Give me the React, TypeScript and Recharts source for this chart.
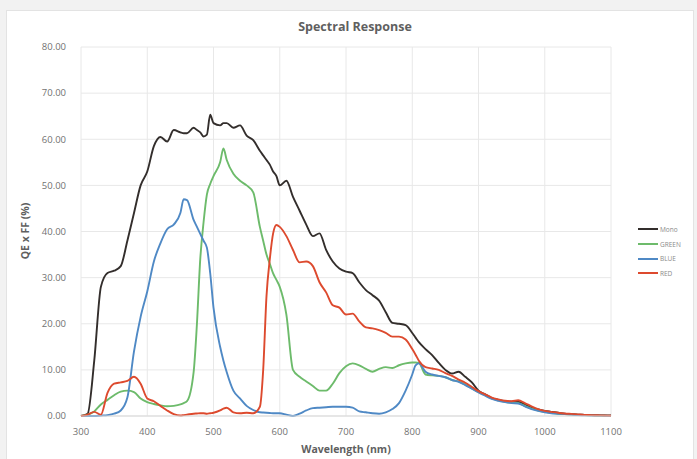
import { CartesianGrid, Line, LineChart, XAxis, YAxis } from "recharts";

// wavelength samples (nm), extra points where curves change fast
const wavelengths = [
  300, 310, 320, 330, 340, 350, 360, 370, 380, 390, 400, 410, 420, 430, 440, 450, 455, 460, 470, 475,
  480, 485, 490, 495, 500, 510, 515, 520, 530, 540, 550, 560, 570, 575, 580, 585, 590, 595, 600, 610,
  620, 630, 640, 650, 660, 670, 680, 690, 700, 710, 720, 730, 740, 750, 760, 770, 780, 790, 800, 805,
  810, 820, 830, 840, 850, 860, 870, 880, 890, 900, 910, 920, 930, 940, 950, 960, 970, 980, 990, 1000,
  1010, 1020, 1030, 1040, 1050, 1060, 1070, 1080, 1090, 1100,
];

const mono = [
  0, 0.5, 12, 28, 31, 31.5, 32.5, 38, 44, 50, 53, 58.5, 60.5, 59.5, 62, 61.5, 61.3, 61.3, 62.5, 62,
  61.5, 60.6, 61, 65.3, 63.5, 63, 63.5, 63.5, 62.5, 63, 60.8, 59.8, 57.5, 56.5, 55.5, 54.5, 53, 52, 50, 51,
  47.5, 44.5, 41.5, 39, 39.6, 36, 33.5, 32, 31.3, 31, 29, 27.3, 26.2, 25, 22.5, 20.2, 20, 19.7, 18, 17,
  16, 14.5, 13.2, 11.5, 10, 9.2, 9.6, 8.5, 7.3, 5.5, 4.7, 3.9, 3.5, 3.2, 3.1, 3.1, 2.5, 1.8, 1.4, 1.1,
  0.9, 0.7, 0.5, 0.4, 0.3, 0.25, 0.2, 0.15, 0.1, 0.1,
];

const green = [
  0, 0.3, 1, 2.5, 3.5, 4.5, 5.3, 5.5, 5.2, 3.8, 3, 2.6, 2.3, 2.1, 2.2, 2.5, 2.8, 3.2, 9.5, 20,
  34, 42, 48, 50.3, 52, 55, 58, 55.5, 52.5, 51, 50, 48.5, 41, 38, 35, 33, 30.9, 29.5, 28, 22,
  10, 8.5, 7.5, 6.5, 5.5, 5.5, 7, 9.3, 10.8, 11.4, 11, 10.2, 9.6, 10.2, 10.6, 10.4, 11, 11.4, 11.6, 11.6,
  11.5, 9, 8.8, 8.7, 8.4, 7.8, 7.5, 6.8, 6, 5.2, 4.5, 3.8, 3.4, 3.1, 2.9, 2.8, 2.2, 1.6, 1.2, 0.9,
  0.7, 0.5, 0.4, 0.3, 0.25, 0.2, 0.15, 0.1, 0.05, 0,
];

const blue = [
  0, 0, 0, 0.1, 0.2, 0.5, 1.2, 4, 14, 21.5, 27, 33.5, 37.5, 40.5, 41.5, 44, 47, 46.8, 42.5, 41,
  39.5, 38, 36.5, 31, 23.5, 15, 12, 9.5, 5.5, 3.8, 2.2, 1.3, 0.8, 0.75, 0.7, 0.65, 0.6, 0.6, 0.6, 0.3,
  0, 0.5, 1.2, 1.7, 1.8, 1.9, 2, 2, 2, 1.8, 1, 0.8, 0.6, 0.5, 0.8, 1.5, 2.8, 5.5, 9, 11,
  11.4, 9.6, 9, 8.7, 8.4, 7.8, 7.4, 6.7, 5.9, 5.1, 4.4, 3.7, 3.3, 3, 2.8, 2.7, 2.1, 1.5, 1.1, 0.8,
  0.6, 0.5, 0.4, 0.3, 0.2, 0.15, 0.1, 0.1, 0.05, 0,
];

const red = [
  0, 0.3, 0.9, 0.3, 5, 7, 7.3, 7.6, 8.5, 7, 3.8, 3.2, 2.2, 1.2, 0.4, 0.1, 0.2, 0.3, 0.5, 0.55,
  0.6, 0.6, 0.5, 0.6, 0.7, 1.2, 1.6, 1.8, 0.8, 0.6, 0.7, 0.6, 2, 10, 26, 34, 39.6, 41.4, 41, 39,
  36, 33.3, 33.5, 32.5, 29, 26.8, 24, 23.5, 22, 22.2, 20.5, 19.2, 19, 18.6, 18, 17.2, 17.2, 16.6, 14.5, 13.3,
  12, 10.6, 10.3, 10, 9.3, 8.7, 7.9, 7.2, 6.3, 5.4, 4.7, 4, 3.6, 3.3, 3.2, 3.4, 2.8, 2.1, 1.5, 1.1,
  0.9, 0.7, 0.55, 0.45, 0.35, 0.25, 0.2, 0.15, 0.1, 0.05,
];

const xTicks = [300, 400, 500, 600, 700, 800, 900, 1000, 1100];
const yTicks = [0, 10, 20, 30, 40, 50, 60, 70, 80];

const series = [
  { key: "mono", name: "Mono", color: "#332e2c" },
  { key: "green", name: "GREEN", color: "#6dbb6b" },
  { key: "blue", name: "BLUE", color: "#4f89c5" },
  { key: "red", name: "RED", color: "#dd4a2e" },
];

const rows = wavelengths.map((nm, i) => ({
  nm,
  mono: mono[i],
  green: green[i],
  blue: blue[i],
  red: red[i],
}));

const font = "'Open Sans', 'Liberation Sans', sans-serif";
const textGray = "#5f5f5f";
const tickGray = "#727272";

export default function App() {
  return (
    <div
      style={{
        position: "fixed",
        left: 0,
        top: 0,
        width: 697,
        height: 459,
        background: "#f2f2f2",
        fontFamily: font,
        overflow: "hidden",
      }}
    >
      {/* white chart panel */}
      <div
        style={{
          position: "absolute",
          left: 6,
          top: 10,
          width: 686,
          height: 460,
          background: "#fff",
          border: "1px solid #e3e3e3",
        }}
      />
      <div style={{ position: "absolute", left: 0, top: 0 }}>
        <LineChart width={697} height={459} data={rows} margin={{ top: 47, right: 86, left: 0, bottom: 0 }}>
          <CartesianGrid stroke="#e8e8e8" />
          <XAxis
            dataKey="nm"
            type="number"
            domain={[300, 1100]}
            ticks={xTicks}
            height={43}
            axisLine={{ stroke: "#d9d9d9" }}
            tickLine={false}
            tickMargin={6}
            tick={{ fontSize: 9.5, fill: tickGray, fontFamily: font }}
          />
          <YAxis
            type="number"
            domain={[0, 80]}
            ticks={yTicks}
            width={81}
            axisLine={false}
            tickLine={false}
            tickMargin={9}
            tickFormatter={(v) => Number(v).toFixed(2)}
            tick={{ fontSize: 9.5, fill: tickGray, fontFamily: font }}
          />
          {series.map((s) => (
            <Line
              key={s.key}
              type="monotone"
              dataKey={s.key}
              name={s.name}
              stroke={s.color}
              strokeWidth={1.9}
              dot={false}
              isAnimationActive={false}
            />
          ))}
        </LineChart>
      </div>

      <div
        style={{
          position: "absolute",
          left: 0,
          top: 18,
          width: 710,
          textAlign: "center",
          fontSize: 12.5,
          fontWeight: 700,
          color: textGray,
        }}
      >
        Spectral Response
      </div>

      <div
        style={{
          position: "absolute",
          left: 25,
          top: 231,
          transform: "translate(-50%, -50%) rotate(-90deg)",
          fontSize: 10.5,
          fontWeight: 700,
          color: textGray,
          whiteSpace: "nowrap",
        }}
      >
        QE x FF (%)
      </div>

      <div
        style={{
          position: "absolute",
          left: 346,
          top: 449,
          transform: "translate(-50%, -50%)",
          fontSize: 10.5,
          fontWeight: 700,
          color: textGray,
          whiteSpace: "nowrap",
        }}
      >
        Wavelength (nm)
      </div>

      {/* legend */}
      <div style={{ position: "absolute", left: 638, top: 222 }}>
        {series.map((s) => (
          <div key={s.key} style={{ display: "flex", alignItems: "center", height: 14.7 }}>
            <span style={{ display: "inline-block", width: 20, height: 2, background: s.color }} />
            <span style={{ fontSize: 6.5, color: "#8a8a8a", marginLeft: 2 }}>{s.name}</span>
          </div>
        ))}
      </div>
    </div>
  );
}
